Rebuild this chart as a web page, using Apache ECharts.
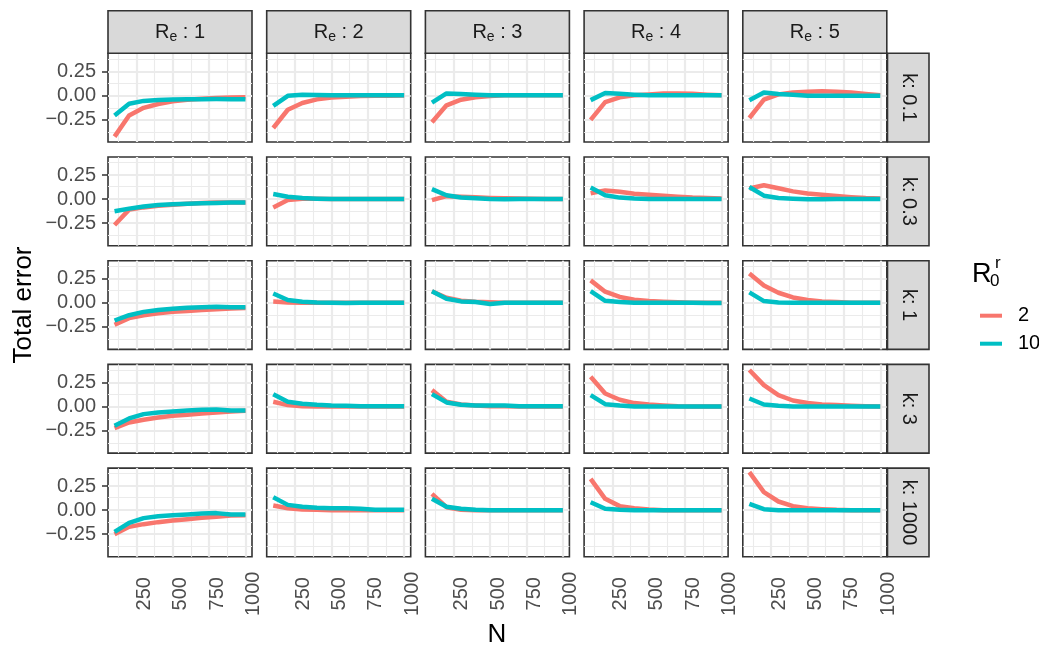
<!DOCTYPE html>
<html>
<head>
<meta charset="utf-8">
<script src="https://cdn.jsdelivr.net/npm/echarts@6/dist/echarts.min.js"></script>
<style>
html, body { margin: 0; padding: 0; background: #fff; }
#main { width: 1039px; height: 650px; }
</style>
</head>
<body>
<div id="main"></div>
<script>
// sample sizes (x axis)
var nValues = [100, 200, 300, 400, 500, 600, 700, 800, 900, 1000];
var reLevels = ['1', '2', '3', '4', '5'];
var kLevels = ['0.1', '0.3', '1', '3', '1000'];
var r0Levels = ['2', '10'];
var r0Colors = ['#F8766D', '#00BFC4'];

// total error, one array per R_e (1..5), one block per k and R0^r
var err2_k01 = [
    [-0.43, -0.21, -0.13, -0.09, -0.062, -0.047, -0.036, -0.028, -0.022, -0.02],
    [-0.34, -0.15, -0.08, -0.042, -0.022, -0.014, -0.008, -0.005, -0.003, -0.002],
    [-0.28, -0.104, -0.045, -0.02, -0.007, 0, 0.002, 0.002, 0.001, 0],
    [-0.255, -0.07, -0.02, 0, 0.01, 0.02, 0.02, 0.017, 0.007, 0],
    [-0.236, -0.045, 0.01, 0.03, 0.038, 0.042, 0.038, 0.03, 0.014, 0]
];
var err10_k01 = [
    [-0.21, -0.088, -0.058, -0.048, -0.043, -0.041, -0.04, -0.039, -0.04, -0.04],
    [-0.11, -0.005, 0.005, 0.003, 0, 0, 0, 0, 0, 0],
    [-0.076, 0.02, 0.014, 0.007, 0, 0, 0, 0, 0, 0],
    [-0.05, 0.024, 0.017, 0.007, 0, 0, 0, 0, 0, 0],
    [-0.05, 0.03, 0.014, 0.005, -0.003, -0.003, -0.003, -0.003, -0.003, -0.003]
];
var err2_k03 = [
    [-0.27, -0.11, -0.087, -0.07, -0.06, -0.05, -0.042, -0.037, -0.035, -0.035],
    [-0.087, -0.01, 0.003, 0.002, 0, 0, 0, 0, 0, 0],
    [-0.012, 0.03, 0.025, 0.018, 0.012, 0.008, 0.005, 0.003, 0.001, 0],
    [0.06, 0.09, 0.075, 0.055, 0.045, 0.035, 0.025, 0.015, 0.01, 0.005],
    [0.11, 0.143, 0.112, 0.08, 0.058, 0.045, 0.032, 0.02, 0.01, 0.005]
];
var err10_k03 = [
    [-0.128, -0.1, -0.077, -0.063, -0.055, -0.048, -0.043, -0.04, -0.037, -0.035],
    [0.052, 0.024, 0.01, 0.004, 0, 0, 0, 0, 0, 0],
    [0.104, 0.04, 0.017, 0.008, 0, -0.003, 0, 0, 0, 0],
    [0.12, 0.04, 0.015, 0.005, 0, 0, 0, 0, 0, 0],
    [0.125, 0.035, 0.01, 0.002, -0.003, -0.003, 0, 0, 0, 0]
];
var err2_k1 = [
    [-0.23, -0.16, -0.13, -0.11, -0.095, -0.085, -0.075, -0.068, -0.06, -0.055],
    [0.012, 0.003, 0, 0, 0, 0, 0, 0, 0, 0],
    [0.12, 0.052, 0.02, 0.01, 0.004, 0, 0, 0, 0, 0],
    [0.233, 0.115, 0.06, 0.031, 0.017, 0.01, 0.004, 0, 0, 0],
    [0.305, 0.18, 0.104, 0.055, 0.028, 0.014, 0.007, 0, 0, 0]
];
var err10_k1 = [
    [-0.185, -0.13, -0.095, -0.075, -0.062, -0.053, -0.046, -0.042, -0.048, -0.048],
    [0.097, 0.028, 0.01, 0.003, 0, -0.003, 0, 0, 0, 0],
    [0.12, 0.042, 0.014, 0.007, -0.014, 0, 0, 0, 0, 0],
    [0.12, 0.02, 0.007, 0, 0, 0, 0, 0, -0.003, -0.003],
    [0.108, 0.017, 0.003, 0, 0, 0, 0, 0, 0, 0]
];
var err2_k3 = [
    [-0.226, -0.167, -0.139, -0.115, -0.097, -0.087, -0.073, -0.063, -0.052, -0.045],
    [0.049, 0.014, 0.003, 0, 0, 0, 0, 0, 0, 0],
    [0.17, 0.049, 0.02, 0.01, 0.003, 0.003, 0, 0, 0, 0],
    [0.31, 0.135, 0.07, 0.035, 0.02, 0.01, 0.003, 0, 0, 0],
    [0.38, 0.222, 0.118, 0.062, 0.035, 0.02, 0.014, 0.007, 0.003, 0]
];
var err10_k3 = [
    [-0.2, -0.125, -0.08, -0.063, -0.052, -0.042, -0.035, -0.031, -0.042, -0.042],
    [0.128, 0.049, 0.028, 0.017, 0.01, 0.007, 0.003, 0.003, 0.003, 0.003],
    [0.128, 0.042, 0.017, 0.01, 0.01, 0.01, 0.003, 0.003, 0.003, 0.003],
    [0.118, 0.024, 0.01, 0, 0, 0, 0, 0, 0, 0],
    [0.083, 0.02, 0.007, 0, 0, 0, 0, 0, 0, 0]
];
var err2_k1000 = [
    [-0.25, -0.174, -0.146, -0.125, -0.108, -0.094, -0.08, -0.07, -0.056, -0.052],
    [0.049, 0.02, 0.007, 0.003, 0, 0, 0, 0, 0, 0],
    [0.17, 0.031, 0.005, 0, 0, 0, 0, 0, 0, 0],
    [0.326, 0.118, 0.042, 0.02, 0.007, 0, 0, 0, 0, 0],
    [0.396, 0.188, 0.09, 0.042, 0.02, 0.01, 0.003, 0, 0, 0]
];
var err10_k1000 = [
    [-0.226, -0.132, -0.083, -0.063, -0.052, -0.045, -0.035, -0.031, -0.045, -0.045],
    [0.135, 0.055, 0.035, 0.024, 0.02, 0.02, 0.014, 0.003, 0.003, 0.003],
    [0.118, 0.035, 0.014, 0.003, 0, 0, 0, 0, 0, 0],
    [0.083, 0.014, 0.003, 0, 0, 0, 0, 0, 0, 0],
    [0.066, 0.01, 0, 0, 0, 0, 0, 0, 0, 0]
];

// rows follow kLevels, each row holds [R0=2, R0=10]
var rowData = [
    [err2_k01, err10_k01],
    [err2_k03, err10_k03],
    [err2_k1, err10_k1],
    [err2_k3, err10_k3],
    [err2_k1000, err10_k1000]
];

// tick values
var xTicks = [250, 500, 750, 1000];
var xMinor = [125, 375, 625, 875];
var yTicks = [-0.25, 0, 0.25];
var yMinor = [-0.375, -0.125, 0.125, 0.375];

var FONT = '"Liberation Sans", Arial, Helvetica, sans-serif';

// facet layout (px)
var left0 = 108, colStep = 158.7, panelW = 144;
var top0 = 53.3, rowStep = 103.7, panelH = 88.7;
var stripTop = 10.7, stripH = 42.6;
var rStripX = 887.5, rStripW = 41.5;

var chart = echarts.init(document.getElementById('main'), null, { renderer: 'canvas' });

var grids = [], xAxes = [], yAxes = [], series = [], graphics = [];

function fmtY(v) {
    var s = Math.abs(v).toFixed(2);
    return v < 0 ? '\u2212' + s : s;
}

kLevels.forEach(function (k, r) {
    reLevels.forEach(function (re, c) {
        var idx = r * 5 + c;
        var isBottom = r === kLevels.length - 1;
        var isLeft = c === 0;
        grids.push({
            left: left0 + c * colStep,
            top: top0 + r * rowStep,
            width: panelW,
            height: panelH,
            show: true,
            backgroundColor: '#fff',
            borderColor: '#333333',
            borderWidth: 1.6,
            containLabel: false
        });
        xAxes.push({
            type: 'value',
            gridIndex: idx,
            min: 55,
            max: 1045,
            axisLine: { show: false },
            splitLine: { show: false },
            axisTick: {
                show: isBottom,
                customValues: xTicks,
                length: 6,
                lineStyle: { color: '#333333', width: 1.5 }
            },
            axisLabel: {
                show: isBottom,
                customValues: xTicks,
                formatter: function (v) { return String(v); },
                rotate: 90,
                align: 'center',
                verticalAlign: 'top',
                lineHeight: 16,
                margin: 37,
                fontSize: 20,
                color: '#4D4D4D',
                fontFamily: FONT
            }
        });
        yAxes.push({
            type: 'value',
            gridIndex: idx,
            min: -0.486,
            max: 0.438,
            axisLine: { show: false },
            splitLine: { show: false },
            axisTick: {
                show: isLeft,
                customValues: yTicks,
                length: 6,
                lineStyle: { color: '#333333', width: 1.5 }
            },
            axisLabel: {
                show: isLeft,
                customValues: yTicks,
                formatter: fmtY,
                margin: 12,
                fontSize: 20,
                color: '#4D4D4D',
                fontFamily: FONT
            }
        });

        // panel grid lines
        var gl = [];
        xMinor.forEach(function (v) { gl.push({ xAxis: v, lineStyle: { width: 1.1 } }); });
        yMinor.forEach(function (v) { gl.push({ yAxis: v, lineStyle: { width: 1.1 } }); });
        xTicks.forEach(function (v) { gl.push({ xAxis: v, lineStyle: { width: 2.2 } }); });
        yTicks.forEach(function (v) { gl.push({ yAxis: v, lineStyle: { width: 2.2 } }); });
        series.push({
            type: 'line',
            name: 'grid' + idx,
            xAxisIndex: idx,
            yAxisIndex: idx,
            data: [],
            z: 1,
            markLine: {
                silent: true,
                z: 1,
                symbol: ['none', 'none'],
                label: { show: false },
                lineStyle: { color: '#EBEBEB', type: 'solid' },
                emphasis: { disabled: true },
                data: gl
            }
        });

        r0Levels.forEach(function (r0, s) {
            var vals = rowData[r][s][c];
            series.push({
                type: 'line',
                name: r0,
                xAxisIndex: idx,
                yAxisIndex: idx,
                z: 6,
                showSymbol: false,
                symbol: 'none',
                itemStyle: { color: r0Colors[s] },
                lineStyle: { color: r0Colors[s], width: 4.5, join: 'round' },
                emphasis: { disabled: true },
                data: nValues.map(function (n, i) { return [n, vals[i]]; })
            });
        });
    });
});

// top strips (R_e)
reLevels.forEach(function (re, c) {
    var x = left0 + c * colStep;
    graphics.push({
        type: 'rect',
        shape: { x: x, y: stripTop, width: panelW, height: stripH },
        style: { fill: '#D9D9D9', stroke: '#333333', lineWidth: 1.6 },
        z: 10
    });
    graphics.push({
        type: 'text',
        x: x + panelW / 2,
        y: stripTop + stripH / 2,
        z: 11,
        style: {
            text: '{m|R}{s|e}{m| : ' + re + '}',
            align: 'center',
            verticalAlign: 'middle',
            rich: {
                m: { fontSize: 20, lineHeight: 24, fill: '#1A1A1A', fontFamily: FONT },
                s: { fontSize: 14, lineHeight: 12, verticalAlign: 'bottom', fill: '#1A1A1A', fontFamily: FONT }
            }
        }
    });
});

// right strips (k)
kLevels.forEach(function (k, r) {
    var y = top0 + r * rowStep;
    graphics.push({
        type: 'rect',
        shape: { x: rStripX, y: y, width: rStripW, height: panelH },
        style: { fill: '#D9D9D9', stroke: '#333333', lineWidth: 1.6 },
        z: 10
    });
    graphics.push({
        type: 'text',
        x: rStripX + rStripW / 2,
        y: y + panelH / 2,
        rotation: -Math.PI / 2,
        z: 11,
        style: {
            text: 'k: ' + k,
            align: 'center',
            verticalAlign: 'middle',
            fontSize: 20,
            fill: '#1A1A1A',
            fontFamily: FONT
        }
    });
});

// axis titles
graphics.push({
    type: 'text', x: 24, y: 305, rotation: Math.PI / 2,
    style: { text: 'Total error', align: 'center', verticalAlign: 'middle', fontSize: 26, fill: '#000', fontFamily: FONT }
});
graphics.push({
    type: 'text', x: 497, y: 635,
    style: { text: 'N', align: 'center', verticalAlign: 'middle', fontSize: 26, fill: '#000', fontFamily: FONT }
});

// legend title R_0^r
graphics.push({
    type: 'text', x: 972, y: 275,
    style: { text: 'R', align: 'left', verticalAlign: 'middle', fontSize: 27, fill: '#000', fontFamily: FONT }
});
graphics.push({
    type: 'text', x: 990, y: 281,
    style: { text: '0', align: 'left', verticalAlign: 'middle', fontSize: 17, fill: '#000', fontFamily: FONT }
});
graphics.push({
    type: 'text', x: 995, y: 263,
    style: { text: 'r', align: 'left', verticalAlign: 'middle', fontSize: 17, fill: '#000', fontFamily: FONT }
});

var option = {
    animation: false,
    backgroundColor: '#fff',
    textStyle: { fontFamily: FONT },
    grid: grids,
    xAxis: xAxes,
    yAxis: yAxes,
    series: series,
    legend: {
        data: r0Levels,
        orient: 'vertical',
        left: 975,
        top: 300.7,
        icon: 'rect',
        itemWidth: 22,
        itemHeight: 4,
        itemGap: 8,
        selectedMode: false,
        textStyle: { fontSize: 20, lineHeight: 20, color: '#000', padding: [0, 0, 0, 11], fontFamily: FONT }
    },
    graphic: graphics
};

chart.setOption(option);
</script>
</body>
</html>
